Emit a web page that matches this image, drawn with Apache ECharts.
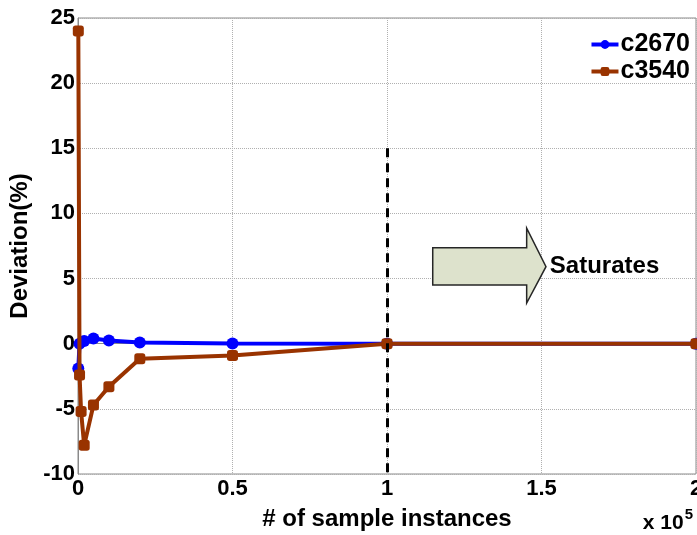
<!DOCTYPE html>
<html>
<head>
<meta charset="utf-8">
<script src="https://cdn.jsdelivr.net/npm/echarts@6/dist/echarts.min.js"></script>
<style>
  html, body { margin: 0; padding: 0; background: #fff; }
  #chart { width: 697px; height: 535px; }
</style>
</head>
<body>
<div id="chart"></div>
<script>
// Deviation of the estimate against the number of sample instances
const samples2670 = [100, 500, 2000, 5000, 10000, 20000, 50000, 100000, 200000];
const dev2670     = [-1.9, 0.0, 0.2, 0.4, 0.25, 0.1, 0.02, 0.0, 0.0];

const samples3540 = [100, 500, 1000, 2000, 5000, 10000, 20000, 50000, 100000, 200000];
const dev3540     = [24, -2.4, -5.2, -7.8, -4.7, -3.3, -1.15, -0.9, 0.0, 0.0];

const seriesNames = ['c2670', 'c3540'];
const seriesColors = ['#0000ff', '#993300'];

// Saturation threshold marker
const saturationX = 100000;
const saturationSpan = [15, -10];

const xTicks = [0, 50000, 100000, 150000, 200000];
const yTicks = [-10, -5, 0, 5, 10, 15, 20, 25];

const fontFamily = '"Liberation Sans", Arial, sans-serif';

function pairs(xs, ys) { return xs.map((x, i) => [x, ys[i]]); }

const chart = echarts.init(document.getElementById('chart'), null, { renderer: 'canvas' });

const option = {
  animation: false,
  backgroundColor: '#fff',
  grid: {
    left: 78, right: 1, top: 18, bottom: 61,
    outerBoundsMode: 'none',
    containLabel: false,
    show: true, borderColor: '#8a8a8a', borderWidth: 1
  },
  legend: {
    orient: 'vertical',
    right: 2,
    top: 27,
    itemGap: 2,
    itemWidth: 27,
    itemHeight: 11,
    lineStyle: { width: 4 },
    textStyle: { fontFamily, fontWeight: 'bold', fontSize: 25, color: '#000', padding: [0, 0, 0, -3] },
    data: seriesNames
  },
  xAxis: {
    type: 'value',
    min: xTicks[0],
    max: xTicks[xTicks.length - 1],
    interval: 50000,
    name: '# of sample instances',
    nameLocation: 'middle',
    nameGap: 33,
    nameTextStyle: { fontFamily, fontWeight: 'bold', fontSize: 24, color: '#000' },
    axisLine: { show: true, lineStyle: { color: '#8a8a8a', width: 1 } },
    axisTick: { show: false },
    axisLabel: {
      margin: 4,
      fontFamily, fontWeight: 'bold', fontSize: 22, color: '#000',
      formatter: v => String(v / 100000)
    },
    splitLine: { show: true, lineStyle: { type: 'dotted', color: '#b0b0b0', width: 1 } }
  },
  yAxis: {
    type: 'value',
    min: yTicks[0],
    max: yTicks[yTicks.length - 1],
    interval: 5,
    name: 'Deviation(%)',
    nameLocation: 'middle',
    nameGap: 45,
    nameTextStyle: { fontFamily, fontWeight: 'bold', fontSize: 24, color: '#000' },
    axisLine: { show: true, lineStyle: { color: '#8a8a8a', width: 1 } },
    axisTick: { show: false },
    axisLabel: { margin: 3, fontFamily, fontWeight: 'bold', fontSize: 22, color: '#000' },
    splitLine: { show: true, lineStyle: { type: 'dotted', color: '#b0b0b0', width: 1 } }
  },
  series: [
    {
      name: seriesNames[0],
      type: 'line',
      data: pairs(samples2670, dev2670),
      color: seriesColors[0],
      symbol: 'circle',
      symbolSize: 12,
      lineStyle: { width: 4 },
      z: 3
    },
    {
      name: seriesNames[1],
      type: 'line',
      data: pairs(samples3540, dev3540),
      color: seriesColors[1],
      symbol: 'roundRect',
      symbolSize: 11,
      lineStyle: { width: 4 },
      z: 4,
      markLine: {
        silent: true,
        symbol: 'none',
        label: { show: false },
        lineStyle: { type: [9, 6], color: '#000', width: 3 },
        data: [[
          { coord: [saturationX, saturationSpan[0]] },
          { coord: [saturationX, saturationSpan[1]] }
        ]]
      }
    }
  ]
};

chart.setOption(option);

// Block arrow with "Saturates" caption, placed in data space
const arrowData = {
  bodyLeft: 114800, headBase: 145200, tip: 151450,
  bodyTop: 7.37, bodyBottom: 4.5, headTop: 8.86, headBottom: 3.12, mid: 5.91
};
function px(x, y) { return chart.convertToPixel({ gridIndex: 0 }, [x, y]); }
const a = arrowData;
const arrowPoints = [
  px(a.bodyLeft, a.bodyTop), px(a.headBase, a.bodyTop), px(a.headBase, a.headTop),
  px(a.tip, a.mid), px(a.headBase, a.headBottom), px(a.headBase, a.bodyBottom),
  px(a.bodyLeft, a.bodyBottom)
];
const captionPos = px(152700, a.mid);

chart.setOption({
  graphic: [
    {
      type: 'polygon',
      shape: { points: arrowPoints },
      style: { fill: '#dde2cc', stroke: '#262626', lineWidth: 1.5 },
      z: 10
    },
    {
      type: 'text',
      x: captionPos[0],
      y: captionPos[1],
      style: {
        text: 'Saturates',
        font: 'bold 24px ' + fontFamily,
        fill: '#000',
        textAlign: 'left',
        textVerticalAlign: 'middle'
      },
      z: 10
    },
    {
      type: 'text',
      right: 4,
      bottom: 1,
      style: {
        text: '{b|x 10}{s|5}',
        rich: {
          b: { fontFamily, fontWeight: 'bold', fontSize: 21, color: '#000', verticalAlign: 'bottom' },
          s: { fontFamily, fontWeight: 'bold', fontSize: 15, color: '#000', verticalAlign: 'top', padding: [0, 0, 12, 1] }
        }
      },
      z: 10
    }
  ]
});
</script>
</body>
</html>
